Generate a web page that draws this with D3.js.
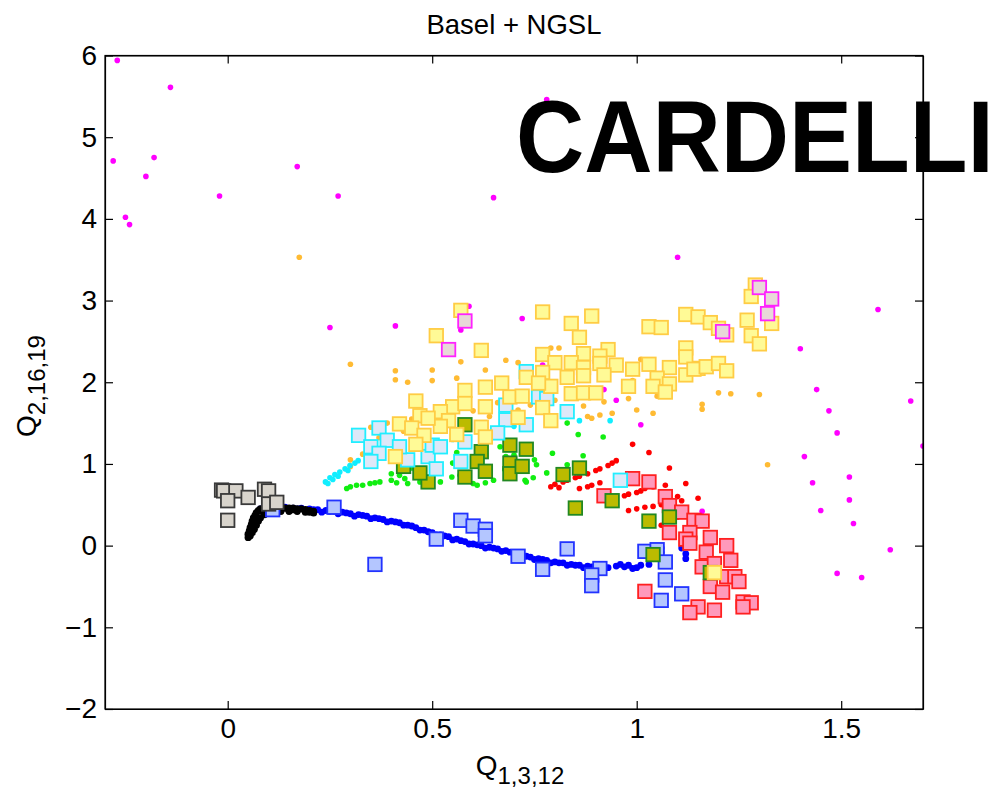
<!DOCTYPE html>
<html>
<head>
<meta charset="utf-8">
<script src="https://cdn.jsdelivr.net/npm/d3@7"></script>
<style>
  html, body { margin: 0; padding: 0; background: #fff; }
  svg text { font-family: "Liberation Sans", Arial, Helvetica, sans-serif; }
</style>
</head>
<body>
<svg id="chart" width="1001" height="794"></svg>
<script>
// ---------------- DATA ----------------
const titleText = "Basel + NGSL";
const stampText = "CARDELLI";
const xDomain = [-0.3, 1.7];
const yDomain = [-2, 6];
const xTicks = [0, 0.5, 1, 1.5];
const xTickLabels = ["0", "0.5", "1", "1.5"];
const yTicks = [-2, -1, 0, 1, 2, 3, 4, 5, 6];
const yTickLabels = ["\u22122", "\u22121", "0", "1", "2", "3", "4", "5", "6"];

// small dots
const magentaDots = [[-0.27,5.94],[-0.14,5.61],[-0.28,4.71],[-0.18,4.75],[-0.20,4.52],[-0.25,4.02],[-0.24,3.93],[-0.02,4.28],[0.17,4.64],[0.27,4.28],
  [0.65,4.26],[0.78,5.46],[1.10,3.53],[0.25,2.67],[0.41,2.69],[0.59,2.93],[0.57,2.64],[0.63,2.35],[0.72,2.78],[0.77,2.21],
  [0.92,1.91],[0.95,1.78],[1.01,1.48],[1.16,0.42],[1.40,2.41],[1.44,1.91],[1.47,1.65],[1.49,1.38],[1.41,1.09],[1.52,0.84],
  [1.43,0.77],[1.52,0.56],[1.45,0.43],[1.53,0.27],[1.62,-0.05],[1.49,-0.34],[1.55,-0.39],[1.59,2.89],[1.67,1.77],[1.70,1.22]];
const orangeDots = [[0.175,3.53],[0.30,2.22],[0.41,2.14],[0.41,2.03],[0.44,2.00],[0.50,2.15],[0.50,2.02],[0.56,2.05],[0.57,2.25],[0.63,2.15],
  [0.68,2.27],[0.71,2.24],[0.79,2.42],[0.81,2.42],[1.01,2.28],[0.87,1.71],[0.88,1.58],[0.89,1.56],[0.91,1.60],[0.92,1.76],
  [0.94,1.62],[0.98,1.80],[1.00,1.66],[1.04,1.62],[0.99,2.02],[1.05,1.83],[1.20,1.87],[1.23,1.86],[1.30,1.85],[1.16,1.73],
  [1.16,1.67],[1.32,0.99],[0.30,1.05],[0.30,0.97],[0.33,1.12],[0.35,1.45],[0.39,1.50],[0.45,1.55],[0.52,1.60],[0.60,1.65],
  [0.66,1.75],[0.74,1.72],[0.80,1.78],[0.37,1.32],[0.43,1.40],[0.55,1.48],[0.64,1.58],[0.71,1.66],[0.84,1.70]];
const cyanDots = [[0.239,0.78],[0.245,0.76],[0.25,0.83],[0.257,0.81],[0.262,0.87],[0.27,0.85],[0.274,0.90],[0.287,0.94],[0.294,0.92],[0.299,0.98],
  [0.311,1.01],[0.319,1.04],[0.86,1.53],[0.935,1.53],[0.40,1.15],[0.46,1.22],[0.55,1.30],[0.62,1.38],[0.70,1.46],[0.78,1.50]];
const greenDots = [[0.291,0.70],[0.30,0.72],[0.315,0.74],[0.33,0.74],[0.348,0.76],[0.36,0.77],[0.372,0.78],[0.40,0.88],[0.413,0.77],[0.433,0.82],
  [0.44,0.76],[0.47,0.78],[0.49,0.80],[0.52,0.78],[0.548,0.84],[0.568,0.86],[0.58,0.80],[0.60,0.76],[0.61,0.74],[0.63,0.77],
  [0.65,0.80],[0.666,1.21],[0.678,0.93],[0.68,1.09],[0.70,1.11],[0.70,1.08],[0.727,0.80],[0.73,0.78],[0.747,0.83],[0.755,0.99],
  [0.78,0.89],[0.794,1.13],[0.83,0.99],[0.83,1.50],[0.857,1.36],[0.869,1.10],[0.918,1.33],[0.55,1.01],[0.56,1.14],[0.50,0.90],
  [0.45,0.95],[0.62,0.95],[0.75,1.05],[0.40,0.80],[0.42,0.86]];
const redDots = [[0.80,0.75],[0.82,0.78],[0.83,0.80],[0.85,0.83],[0.86,0.85],[0.88,0.88],[0.90,0.92],[0.91,0.94],[0.93,0.98],[0.94,1.01],
  [0.95,1.04],[0.79,0.72],[0.81,0.71],[0.86,0.70],[0.88,0.72],[0.89,0.74],[0.91,0.77],[0.97,0.61],[0.98,0.63],[1.00,0.65],
  [1.01,0.67],[1.02,0.70],[1.04,0.72],[1.07,0.74],[0.98,0.43],[1.00,0.45],[1.02,0.47],[1.04,0.48],[1.06,0.50],[1.09,0.53],
  [1.11,0.55],[0.99,1.24],[1.03,1.14],[1.08,0.95],[1.12,0.76],[1.15,0.58],[1.10,0.60],[1.06,0.25],[1.10,0.35],[1.13,0.22]];
const blueDots = [[0.08,0.45],[0.10,0.47],[0.12,0.47],[0.14,0.47],[0.16,0.46],[0.18,0.46],[0.20,0.45],[0.22,0.44],[0.24,0.43],[0.26,0.42],
  [0.28,0.41],[0.30,0.39],[0.32,0.38],[0.34,0.36],[0.36,0.34],[0.38,0.32],[0.40,0.30],[0.42,0.28],[0.44,0.25],[0.46,0.22],
  [0.48,0.19],[0.50,0.16],[0.52,0.13],[0.54,0.11],[0.56,0.08],[0.58,0.05],[0.60,0.02],[0.62,0.00],[0.64,-0.02],[0.66,-0.04],
  [0.68,-0.06],[0.70,-0.09],[0.74,-0.14],[0.76,-0.16],[0.78,-0.18],[0.80,-0.20],[0.82,-0.21],[0.84,-0.23],[0.86,-0.24],[0.88,-0.25],
  [0.91,-0.26],[0.95,-0.25],[0.98,-0.24],[1.00,-0.27],
  [0.11,0.44],[0.15,0.43],[0.19,0.43],[0.23,0.41],[0.27,0.39],[0.31,0.36],[0.35,0.33],[0.39,0.29],[0.43,0.25],[0.47,0.19],
  [0.51,0.13],[0.55,0.07],[0.59,0.02],[0.63,-0.03],[0.67,-0.07],[0.71,-0.11],[0.75,-0.17],[0.79,-0.21],[0.83,-0.24],[0.87,-0.27],
  [0.90,-0.28],[0.99,-0.28],[1.01,-0.24],[1.06,-0.03],[1.06,-0.08],[1.11,-0.03],[1.12,-0.10],[1.12,-0.16],
  [0.13,0.46],[0.17,0.45],[0.21,0.44],[0.25,0.42],[0.29,0.40],[0.33,0.37],[0.37,0.33],[0.41,0.29],[0.45,0.24],[0.49,0.17],
  [0.53,0.12],[0.57,0.06],[0.61,0.01],[0.65,-0.03],[0.69,-0.08],[0.72,-0.12],[0.73,-0.13],[0.77,-0.17],[0.81,-0.21],[0.85,-0.24],
  [0.89,-0.26],[0.93,-0.27],[0.97,-0.26],[1.03,-0.23],[0.96,-0.23],[0.92,-0.25]];
const blackDots = [[0.05,0.10],[0.05,0.14],[0.053,0.18],[0.055,0.22],[0.058,0.26],[0.06,0.30],[0.063,0.34],[0.067,0.37],[0.07,0.40],[0.075,0.43],
  [0.08,0.45],[0.09,0.46],[0.10,0.47],[0.11,0.47],[0.12,0.47],[0.13,0.47],[0.14,0.46],[0.15,0.46],[0.16,0.46],[0.17,0.45],
  [0.18,0.45],[0.19,0.44],[0.20,0.43],[0.21,0.42],[0.065,0.20],[0.07,0.25],[0.075,0.30],[0.08,0.34],[0.09,0.38],[0.10,0.40],
  [0.11,0.41],[0.13,0.42],[0.15,0.42],[0.17,0.42],[0.19,0.41],[0.21,0.40],[0.055,0.12],[0.06,0.16],[0.085,0.42],[0.12,0.44],
  [0.16,0.44],[0.20,0.41]];

// squares
const blueSquares = [[0.26,0.47],[0.36,-0.23],[0.11,0.44],[0.57,0.31],[0.60,0.24],[0.63,0.20],[0.63,0.12],[0.51,0.08],[0.71,-0.13],[0.77,-0.29],
  [0.83,-0.04],[0.91,-0.28],[0.89,-0.36],[0.89,-0.49],[1.02,-0.07],[1.05,-0.05],[1.07,-0.20],[1.07,-0.42],[1.11,-0.59],[1.06,-0.67]];
const greySquares = [[-0.015,0.68],[-0.01,0.67],[0.02,0.67],[0.00,0.55],[0.05,0.59],[0.09,0.69],[0.10,0.67],[0.10,0.51],[0.12,0.53],[0.00,0.31]];
const pinkSquares = [[0.99,0.82],[1.03,0.78],[0.92,0.61],[1.07,0.60],[1.08,0.49],[1.11,0.41],[1.14,0.31],[1.16,0.30],[1.08,0.16],[1.13,0.16],
  [1.12,0.08],[1.18,0.10],[1.13,0.03],[1.22,0.00],[1.17,-0.08],[1.23,-0.18],[1.16,-0.26],[1.19,-0.22],[1.22,-0.38],[1.24,-0.38],
  [1.25,-0.44],[1.18,-0.50],[1.21,-0.57],[1.26,-0.69],[1.28,-0.70],[1.26,-0.75],[1.15,-0.75],[1.13,-0.82],[1.19,-0.79],[1.02,-0.56]];
const oliveSquares = [[0.58,1.48],[0.69,1.23],[0.62,1.15],[0.61,1.03],[0.63,0.91],[0.58,0.84],[0.49,0.78],[0.47,0.89],[0.43,0.97],[0.69,1.01],
  [0.69,0.88],[0.73,1.18],[0.72,0.97],[0.82,0.87],[0.86,0.95],[0.85,0.46],[0.94,0.55],[1.03,0.30],[1.08,0.35],[1.04,-0.11],[1.18,-0.33]];
const cyanSquares = [[0.32,1.35],[0.37,1.44],[0.39,1.29],[0.35,1.21],[0.37,1.13],[0.35,1.03],[0.44,1.05],[0.49,1.09],[0.51,0.94],[0.57,1.03],
  [0.50,1.23],[0.52,1.21],[0.58,1.27],[0.68,1.72],[0.68,1.54],[0.66,1.38],[0.42,1.21],[0.73,2.13],[0.83,1.64],[0.73,1.48],
  [0.76,1.82],[0.78,1.80],[0.96,0.80]];
const yellowSquares = [[0.57,2.88],[0.51,2.57],[0.62,2.39],[0.58,1.90],[0.63,1.94],[0.67,1.99],[0.69,1.82],[0.46,1.77],[0.55,1.70],[0.58,1.74],
  [0.63,1.70],[0.52,1.64],[0.47,1.59],[0.54,1.53],[0.42,1.49],[0.45,1.44],[0.52,1.46],[0.62,1.45],[0.71,1.57],[0.48,1.35],
  [0.56,1.36],[0.63,1.33],[0.46,1.24],[0.41,1.09],[0.49,1.56],[0.77,2.86],[0.89,2.81],[0.84,2.72],[1.12,2.83],[1.03,2.68],
  [1.06,2.67],[1.15,2.80],[0.86,2.55],[1.12,2.42],[0.77,2.34],[0.93,2.40],[0.91,2.32],[0.87,2.35],[0.80,2.24],[0.84,2.24],
  [0.87,2.18],[0.91,2.23],[0.95,2.21],[0.99,2.16],[1.03,2.22],[1.08,2.18],[1.12,2.09],[1.15,2.17],[0.77,2.12],[0.83,2.06],
  [0.87,2.08],[0.92,2.09],[0.73,2.06],[1.05,2.05],[1.08,1.98],[1.04,1.95],[0.98,1.95],[1.07,1.88],[0.79,1.95],[0.76,1.99],
  [0.84,1.86],[0.87,1.87],[0.90,1.87],[0.72,1.83],[0.77,1.69],[0.79,1.53],[1.29,3.19],[1.28,3.05],[1.33,2.72],[1.27,2.76],
  [1.18,2.73],[1.20,2.66],[1.22,2.58],[1.28,2.57],[1.30,2.47],[1.12,2.31],[1.14,2.16],[1.17,2.19],[1.20,2.23],[1.22,2.14],
  [1.19,-0.33]];
const magentaSquares = [[0.58,2.75],[0.54,2.40],[1.30,3.16],[1.33,3.02],[1.32,2.84],[1.21,2.62]];

// ---------------- STYLE / LAYOUT ----------------
const W = 1001, H = 794;
const plot = { left: 105, right: 923, top: 55.5, bottom: 709 };
const svg = d3.select("#chart");
svg.append("rect").attr("width", W).attr("height", H).attr("fill", "#fff");

const x = d3.scaleLinear().domain(xDomain).range([plot.left, plot.right]);
const y = d3.scaleLinear().domain(yDomain).range([plot.bottom, plot.top]);

svg.append("defs").append("clipPath").attr("id", "clip")
  .append("rect").attr("x", plot.left).attr("y", plot.top)
  .attr("width", plot.right - plot.left).attr("height", plot.bottom - plot.top);

const g = svg.append("g").attr("clip-path", "url(#clip)");

function dots(data, color, r) {
  g.append("g").selectAll("circle").data(data).enter().append("circle")
    .attr("cx", d => x(d[0])).attr("cy", d => y(d[1]))
    .attr("r", r).attr("fill", color);
}
function squares(data, fill, stroke) {
  const s = 13.5;
  g.append("g").selectAll("rect").data(data).enter().append("rect")
    .attr("x", d => x(d[0]) - s / 2).attr("y", d => y(d[1]) - s / 2)
    .attr("width", s).attr("height", s)
    .attr("fill", fill).attr("stroke", stroke).attr("stroke-width", 1.8);
}

dots(magentaDots, "#ff00ff", 2.8);
dots(orangeDots, "#ffbb33", 2.8);
dots(cyanDots, "#11eeff", 2.8);
dots(greenDots, "#11ee11", 2.8);
dots(redDots, "#ff0000", 2.8);
dots(blueDots, "#0000ff", 3.4);
dots(blackDots, "#000000", 3.6);

squares(blueSquares, "#b4c6ff", "#2233ff");
squares(greySquares, "#d8d4cc", "#3a3a3a");
squares(pinkSquares, "#ff99bb", "#ff2020");
squares(oliveSquares, "#bbbb00", "#228822");
squares(cyanSquares, "#dde8f8", "#22eeff");
squares(yellowSquares, "#fffa96", "#ffcc44");
squares(magentaSquares, "#e8d8d8", "#ff22ff");

// ---------------- AXES ----------------
const font = "'Liberation Sans', Arial, sans-serif";
const axB = svg.append("g").attr("transform", `translate(0,${plot.bottom})`)
  .call(d3.axisBottom(x).tickValues(xTicks).tickFormat((d, i) => xTickLabels[i]).tickSize(-8).tickSizeOuter(0).tickPadding(9));
const axT = svg.append("g").attr("transform", `translate(0,${plot.top})`)
  .call(d3.axisTop(x).tickValues(xTicks).tickFormat("").tickSize(-8).tickSizeOuter(0));
const axL = svg.append("g").attr("transform", `translate(${plot.left},0)`)
  .call(d3.axisLeft(y).tickValues(yTicks).tickFormat((d, i) => yTickLabels[i]).tickSize(-8).tickSizeOuter(0).tickPadding(8));
const axR = svg.append("g").attr("transform", `translate(${plot.right},0)`)
  .call(d3.axisRight(y).tickValues(yTicks).tickFormat("").tickSize(-8).tickSizeOuter(0));

[axB, axT, axL, axR].forEach(a => {
  a.selectAll("path.domain").attr("stroke", "#000").attr("stroke-width", 1.2);
  a.selectAll(".tick line").attr("stroke", "#000").attr("stroke-width", 1.2);
  a.selectAll("text").attr("fill", "#000").style("font-family", font).style("font-size", "28px");
});

svg.append("rect").attr("x", plot.left).attr("y", plot.top)
  .attr("width", plot.right - plot.left).attr("height", plot.bottom - plot.top)
  .attr("fill", "none").attr("stroke", "#000").attr("stroke-width", 1.2);

// ---------------- TEXT ----------------
svg.append("text").attr("x", (plot.left + plot.right) / 2).attr("y", 34)
  .attr("text-anchor", "middle").style("font-size", "27.5px").style("font-family", font)
  .text(titleText);

const xl = svg.append("text").attr("x", 520).attr("y", 775).attr("text-anchor", "middle")
  .style("font-family", font).style("font-size", "28px");
xl.append("tspan").text("Q");
xl.append("tspan").attr("dy", 9).style("font-size", "24px").text("1,3,12");

const yl = svg.append("text").attr("transform", "translate(36,386) rotate(-90)").attr("text-anchor", "middle")
  .style("font-family", font).style("font-size", "28px");
yl.append("tspan").text("Q");
yl.append("tspan").attr("dy", 9).style("font-size", "24px").text("2,16,19");

svg.append("text").attr("transform", "translate(516,172) scale(1,1.07)")
  .style("font-family", font).style("font-weight", "bold").style("font-size", "94.5px")
  .text(stampText);
</script>
</body>
</html>
